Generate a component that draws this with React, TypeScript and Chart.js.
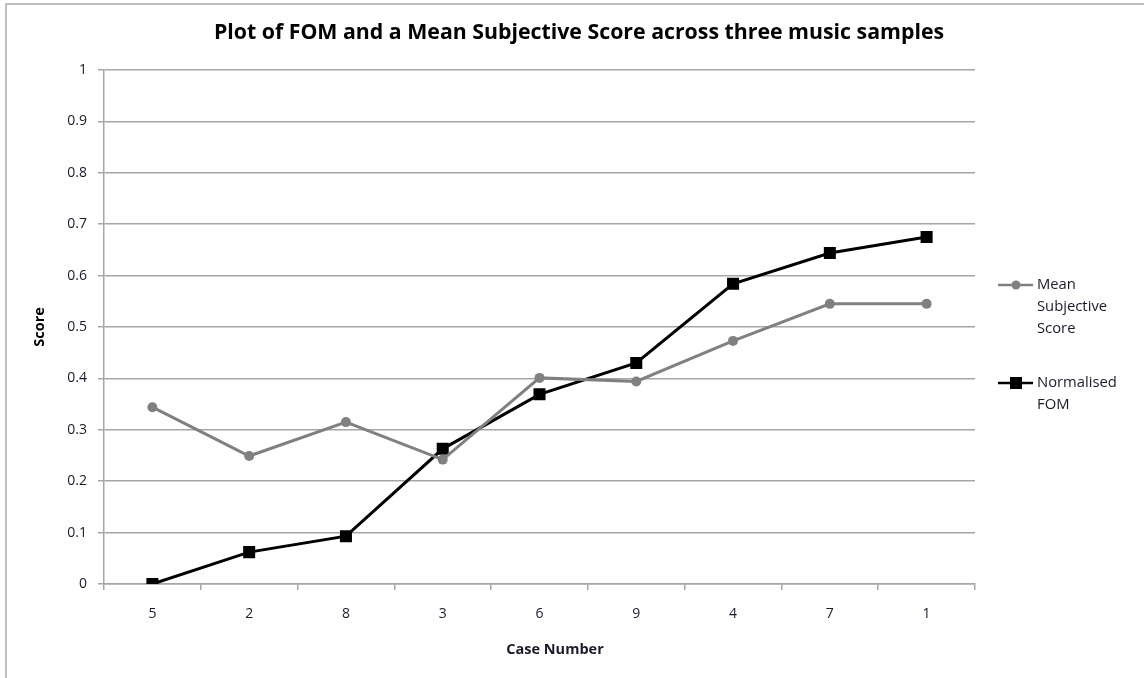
import React, { useEffect, useRef } from "react";
import { Chart, registerables } from "chart.js";

Chart.register(...registerables);

const categories = ["5", "2", "8", "3", "6", "9", "4", "7", "1"];
const meanSubjective = [0.344, 0.249, 0.315, 0.242, 0.401, 0.394, 0.473, 0.545, 0.545];
const normalisedFom = [0, 0.062, 0.093, 0.263, 0.369, 0.43, 0.584, 0.644, 0.675];
const seriesNames = [["Mean", "Subjective", "Score"], ["Normalised", "FOM"]];
const chartTitle = "Plot of FOM and a Mean Subjective Score across three music samples";
const xTitle = "Case Number";
const yTitle = "Score";

const FONT = "'Open Sans', sans-serif";
const TEXT = "#1a1a2a";
const GRID = "#a6a6a6";
const GREY = "#808080";

const decor = {
  id: "decor",
  afterDraw(chart: any) {
    const ctx = chart.ctx;
    ctx.save();
    // outer frame
    ctx.strokeStyle = "#aaaaaa";
    ctx.lineWidth = 1.5;
    ctx.beginPath();
    ctx.moveTo(6, 678);
    ctx.lineTo(6, 4);
    ctx.lineTo(1144, 4);
    ctx.stroke();
    // chart title
    ctx.fillStyle = "#000000";
    ctx.font = "bold 21.3px " + FONT;
    ctx.textAlign = "center";
    ctx.textBaseline = "middle";
    ctx.fillText(chartTitle, 579, 33);
    // x axis title
    ctx.fillStyle = TEXT;
    ctx.font = "bold 14.5px " + FONT;
    ctx.fillText(xTitle, 555, 650);
    // legend
    const items = [
      { lines: seriesNames[0], y: 285, color: GREY, style: "circle" },
      { lines: seriesNames[1], y: 383, color: "#000000", style: "rect" },
    ];
    ctx.font = "14.8px " + FONT;
    ctx.textAlign = "left";
    items.forEach((it) => {
      ctx.strokeStyle = it.color;
      ctx.lineWidth = 2.5;
      ctx.beginPath();
      ctx.moveTo(998, it.y);
      ctx.lineTo(1033, it.y);
      ctx.stroke();
      ctx.fillStyle = it.color;
      if (it.style === "circle") {
        ctx.beginPath();
        ctx.arc(1016, it.y, 4.5, 0, Math.PI * 2);
        ctx.fill();
      } else {
        ctx.fillRect(1010, it.y - 6, 12, 12);
      }
      ctx.fillStyle = TEXT;
      it.lines.forEach((ln, i) => {
        ctx.fillText(ln, 1037, it.y + i * 22);
      });
    });
    ctx.restore();
  },
};

export default function App() {
  const ref = useRef<HTMLCanvasElement>(null);
  useEffect(() => {
    if (!ref.current) return;
    const chart = new Chart(ref.current, {
      type: "line",
      data: {
        labels: categories,
        datasets: [
          {
            label: seriesNames[0].join(" "),
            data: meanSubjective,
            borderColor: GREY,
            backgroundColor: GREY,
            borderWidth: 3,
            pointStyle: "circle",
            pointRadius: 5,
            pointBorderWidth: 0,
            tension: 0,
          },
          {
            label: seriesNames[1].join(" "),
            data: normalisedFom,
            borderColor: "#000000",
            backgroundColor: "#000000",
            borderWidth: 3,
            pointStyle: "rect",
            pointRadius: 8.5,
            pointBorderWidth: 0,
            tension: 0,
          },
        ],
      },
      options: {
        responsive: false,
        animation: false,
        layout: { padding: { left: 0, right: 169, top: 70, bottom: 0 } },
        plugins: {
          legend: { display: false },
          tooltip: { enabled: false },
          title: { display: false },
        },
        scales: {
          x: {
            offset: true,
            grid: {
              offset: true,
              drawOnChartArea: false,
              drawTicks: true,
              tickLength: 6,
              color: GRID,
              lineWidth: 1.5,
            },
            border: { color: GRID, width: 1.5 },
            ticks: { color: TEXT, font: { family: FONT, size: 14 }, padding: 16 },
            afterFit: (s: any) => {
              s.height = 94;
            },
          },
          y: {
            min: 0,
            max: 1,
            ticks: {
              stepSize: 0.1,
              color: TEXT,
              font: { family: FONT, size: 14 },
              padding: 11,
              callback: (v: any) => String(Math.round(Number(v) * 10) / 10),
            },
            grid: { color: GRID, lineWidth: 1.5, tickLength: 6 },
            border: { color: GRID, width: 1.5 },
            title: {
              display: true,
              text: yTitle,
              color: "#000000",
              font: { family: FONT, size: 14.5, weight: "bold" },
              padding: { top: 31, bottom: 0 },
            },
            afterFit: (s: any) => {
              s.width = 104;
            },
          },
        },
      },
      plugins: [decor],
    });
    return () => chart.destroy();
  }, []);
  return (
    <div style={{ position: "absolute", left: 0, top: 0, width: 1144, height: 678, background: "#fff" }}>
      <canvas ref={ref} width={1144} height={678} style={{ width: 1144, height: 678 }} />
    </div>
  );
}
